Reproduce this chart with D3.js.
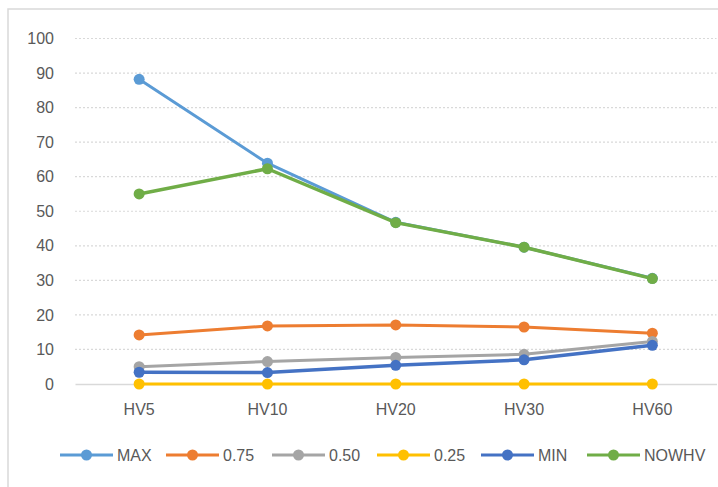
<!DOCTYPE html>
<html>
<head>
<meta charset="utf-8">
<script src="https://cdn.jsdelivr.net/npm/d3@7/dist/d3.min.js"></script>
<style>
  html, body { margin: 0; padding: 0; background: #fff; }
  svg { display: block; font-family: "Liberation Sans", Arial, sans-serif; }
</style>
</head>
<body>
<svg id="chart" width="718" height="487"></svg>
<script>
// Historical volatility percentiles by lookback window
const categories = ["HV5", "HV10", "HV20", "HV30", "HV60"];
const yTicks = [0, 10, 20, 30, 40, 50, 60, 70, 80, 90, 100];
const seriesNames = ["MAX", "0.75", "0.50", "0.25", "MIN", "NOWHV"];
const seriesColors = ["#5B9BD5", "#ED7D31", "#A5A5A5", "#FFC000", "#4472C4", "#70AD47"];
const maxValues   = [88.2, 63.9, 46.8, 39.6, 30.6];
const q75Values   = [14.2, 16.8, 17.1, 16.5, 14.7];
const q50Values   = [5.0, 6.5, 7.7, 8.6, 12.3];
const q25Values   = [0, 0, 0, 0, 0];
const minValues   = [3.4, 3.3, 5.4, 7.0, 11.2];
const nowValues   = [55.0, 62.3, 46.7, 39.6, 30.5];

const seriesValues = [maxValues, q75Values, q50Values, q25Values, minValues, nowValues];

const svg = d3.select("#chart");

// chart frame
svg.append("rect")
  .attr("x", 8).attr("y", 9)
  .attr("width", 740).attr("height", 520)
  .attr("fill", "#fff")
  .attr("stroke", "#D9D9D9").attr("stroke-width", 1.5);

const plot = { left: 75, right: 716.5, top: 38.5, bottom: 384 };

const x = d3.scaleBand().domain(categories).range([plot.left, plot.right]);
const y = d3.scaleLinear().domain([0, 100]).range([plot.bottom, plot.top]);

// dotted gridlines
svg.append("g")
  .selectAll("line")
  .data(yTicks.filter(t => t > 0))
  .join("line")
  .attr("x1", plot.left).attr("x2", plot.right)
  .attr("y1", d => y(d)).attr("y2", d => y(d))
  .attr("stroke", "#D9D9D9").attr("stroke-width", 1.2)
  .attr("stroke-dasharray", "2,2");

// y axis labels
const yAxis = d3.axisLeft(y).tickValues(yTicks).tickSize(0).tickPadding(0);
const yg = svg.append("g").attr("transform", `translate(54,0)`).call(yAxis);
yg.select(".domain").remove();
yg.selectAll("text")
  .attr("fill", "#595959")
  .style("font-size", "16px")
  .style("font-family", "'Liberation Sans', Arial, sans-serif");

// category axis
const xAxis = d3.axisBottom(x).tickSize(0).tickPadding(0);
const xg = svg.append("g").attr("transform", `translate(0,${plot.bottom})`).call(xAxis);
xg.select(".domain")
  .attr("stroke", "#D9D9D9").attr("stroke-width", 1.5);
xg.selectAll("text")
  .attr("fill", "#595959")
  .attr("dy", 0)
  .attr("y", 31)
  .style("font-size", "16px")
  .style("font-family", "'Liberation Sans', Arial, sans-serif");

const cx = d => x(d) + x.bandwidth() / 2;
const line = d3.line()
  .x((d, i) => cx(categories[i]))
  .y(d => y(d));

// series lines with markers
seriesNames.forEach((name, s) => {
  const g = svg.append("g");
  g.append("path")
    .datum(seriesValues[s])
    .attr("d", line)
    .attr("fill", "none")
    .attr("stroke", seriesColors[s])
    .attr("stroke-width", s === 5 || s === 4 ? 3.5 : 3)
    .attr("stroke-linejoin", "round");
  g.selectAll("circle")
    .data(seriesValues[s])
    .join("circle")
    .attr("cx", (d, i) => cx(categories[i]))
    .attr("cy", d => y(d))
    .attr("r", 5.5)
    .attr("fill", seriesColors[s]);
});

// legend
const legendX = [60, 166, 272, 377, 481, 587];
const legendY = 455;
const lg = svg.append("g");
seriesNames.forEach((name, i) => {
  const g = lg.append("g").attr("transform", `translate(${legendX[i]},${legendY})`);
  g.append("line")
    .attr("x1", 0).attr("x2", 53)
    .attr("y1", 0).attr("y2", 0)
    .attr("stroke", seriesColors[i]).attr("stroke-width", 3);
  g.append("circle")
    .attr("cx", 26.5).attr("cy", 0).attr("r", 5.5)
    .attr("fill", seriesColors[i]);
  g.append("text")
    .attr("x", 57).attr("y", 6)
    .attr("fill", "#595959")
    .style("font-size", "16px")
    .text(name);
});
</script>
</body>
</html>
